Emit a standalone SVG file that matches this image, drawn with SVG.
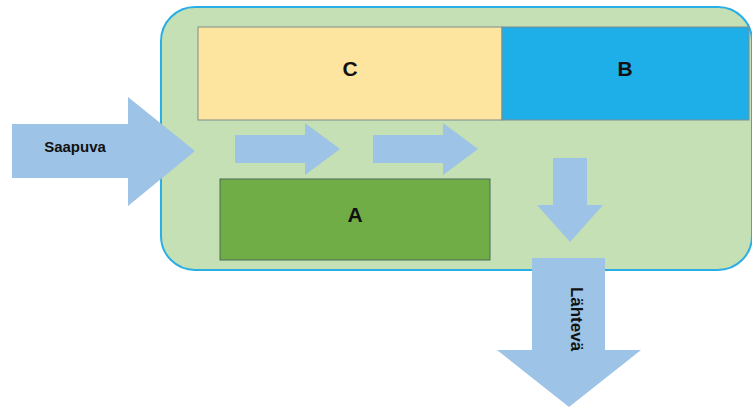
<svg xmlns="http://www.w3.org/2000/svg" width="752" height="408" viewBox="0 0 752 408">
  <style>
    .lbl { font-family: "Liberation Sans", Arial, sans-serif; font-weight: bold; fill: #111; text-anchor: middle; }
    .arrow { fill: #9dc3e6; }
    .box { stroke: #7f8c8d; stroke-width: 1; }
  </style>
  <rect width="752" height="408" fill="#ffffff"/>

  <!-- container -->
  <g id="container">
    <rect x="161" y="7" width="591" height="263" rx="34" ry="34" fill="#c5e0b4" stroke="#2aaee6" stroke-width="2"/>
  </g>

  <g id="node-c">
    <rect class="box" x="198" y="27" width="304" height="93" fill="#fde49f"/>
    <text class="lbl" x="350" y="76" font-size="21">C</text>
  </g>

  <g id="node-b">
    <rect class="box" x="502" y="27" width="247" height="93" fill="#1eaee8"/>
    <text class="lbl" x="625" y="76" font-size="21">B</text>
  </g>

  <g id="node-a">
    <rect x="220" y="179" width="270" height="81" fill="#70ad47" stroke="#4a6b5a" stroke-width="1"/>
    <text class="lbl" x="355" y="222" font-size="21">A</text>
  </g>

  <g id="connectors">
    <!-- incoming -->
    <polygon class="arrow" points="12,124 128,124 128,97 195,151 128,206 128,178 12,178"/>
    <!-- internal flow -->
    <polygon class="arrow" points="235,135 305,135 305,123 340,149 305,175 305,163 235,163"/>
    <polygon class="arrow" points="373,135 443,135 443,123 478,149 443,175 443,163 373,163"/>
    <polygon class="arrow" points="553,158 587,158 587,205 603,205 570,242 537,205 553,205"/>
    <!-- outgoing -->
    <polygon class="arrow" points="532,258 605,258 605,350 641,350 569,407 497,350 532,350"/>
  </g>

  <text class="lbl" x="75" y="152" font-size="15">Saapuva</text>
  <text class="lbl" x="0" y="0" font-size="17" transform="translate(571,319) rotate(90)">Lähtevä</text>
</svg>
